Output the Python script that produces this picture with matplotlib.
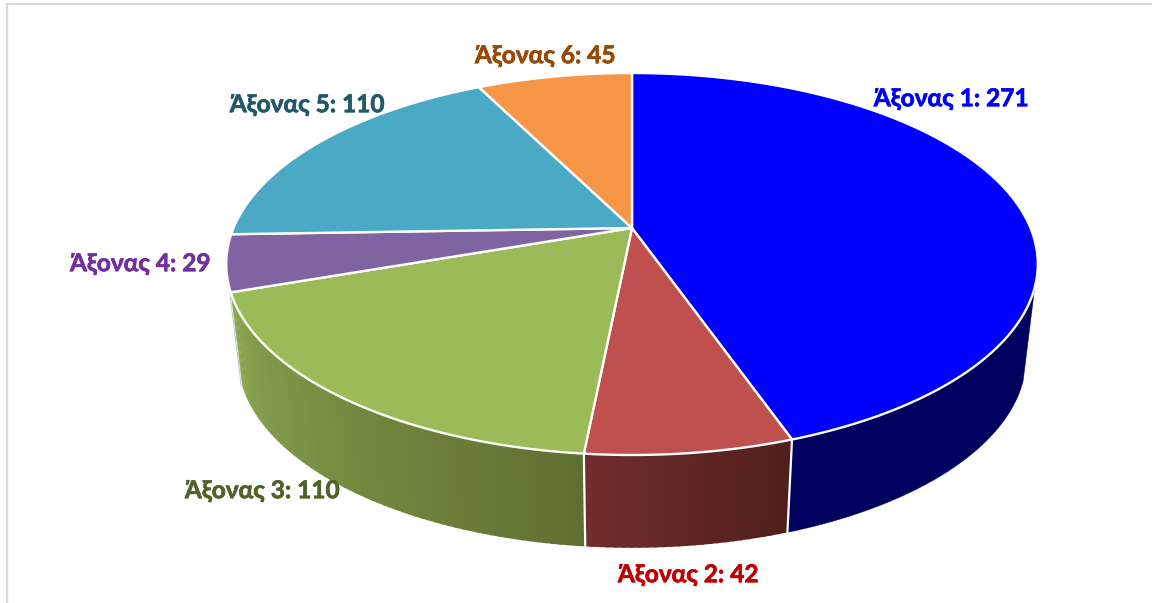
import numpy as np
import matplotlib
matplotlib.use("Agg")
import matplotlib.pyplot as plt
import matplotlib.patheffects as pe
from matplotlib.colors import to_rgb

categories = ["Άξονας 1", "Άξονας 2", "Άξονας 3", "Άξονας 4", "Άξονας 5", "Άξονας 6"]
values = [271, 42, 110, 29, 110, 45]
top_colors = ["#0000ff", "#c0504d", "#9bbb59", "#8064a2", "#4aaac5", "#f79646"]
side_start = ["#00005f", "#722e2c", "#8ba650", "#8064a2", "#4aaac5", "#f79646"]
side_end = ["#00005f", "#4f1f1b", "#5e7031", "#8064a2", "#4aaac5", "#f79646"]
label_colors = ["#0000ff", "#c00000", "#4f6228", "#7030a0", "#215968", "#984807"]

K = 0.1885
CX = 632


def top_xy(t):
    u, v = np.sin(t), np.cos(t)
    d = 1 + K * v
    return CX + 398.5 * u / d, 228 - 184.2 * v / d


def bot_xy(t):
    u, v = np.sin(t), np.cos(t)
    d = 1 + K * v
    return CX + 387 * u / d, 322 - 183.2 * v / d


fig = plt.figure(figsize=(11.52, 6.03), dpi=100)
ax = fig.add_axes([0, 0, 1, 1])
ax.set_xlim(0, 1152)
ax.set_ylim(603, 0)
ax.axis("off")

# chart frame
ax.plot([6.5, 6.5, 1152], [603, 3.5, 3.5], color="#d9d9d9", lw=1.6, zorder=1)

edges = np.concatenate([[0], np.cumsum(values)]) / np.sum(values) * 2 * np.pi
T_VIS0, T_VIS1 = np.radians(107.6), edges[3]

# side walls
for i in range(len(values)):
    a, b = max(edges[i], T_VIS0), min(edges[i + 1], T_VIS1)
    if a >= b:
        continue
    if side_start[i] == side_end[i]:
        ts = np.linspace(a, b, 200)
        x1, y1 = top_xy(ts)
        x2, y2 = bot_xy(ts[::-1])
        ax.fill(np.r_[x1, x2], np.r_[y1, y2], color=side_start[i], lw=0.3, zorder=2)
        continue
    n = max(int((b - a) * 60), 2)
    ts = np.linspace(a, b, n + 1)
    c0, c1 = np.array(to_rgb(side_start[i])), np.array(to_rgb(side_end[i]))
    for j in range(n):
        # slight overlap hides antialiasing seams between strips
        t = np.linspace(ts[j], min(ts[j + 1] + 0.006, b), 6)
        x1, y1 = top_xy(t)
        x2, y2 = bot_xy(t[::-1])
        f = (j + 0.5) / n
        col = c1 * (1 - f) + c0 * f
        ax.fill(np.r_[x1, x2], np.r_[y1, y2], facecolor=col, edgecolor="none", zorder=2)

# white seams between visible side walls, thin outline at left end
for t in edges[1:3]:
    x1, y1 = top_xy(t)
    x2, y2 = bot_xy(t)
    ax.plot([x1, x2], [y1, y2], color="white", lw=1.6, zorder=3)
x1, y1 = top_xy(edges[3])
x2, y2 = bot_xy(edges[3])
ax.plot([x1 - 1, x2 - 1], [y1, y2], color="#c4c4c4", lw=0.7, zorder=3)

# top face
for i in range(len(values)):
    ts = np.linspace(edges[i], edges[i + 1], 200)
    x, y = top_xy(ts)
    ax.fill(np.r_[CX, x], np.r_[228, y], facecolor=top_colors[i], edgecolor="white",
            lw=1.7, joinstyle="round", zorder=4)

label_xy = [(951, 99), (688, 575), (262, 491), (140, 264), (307, 105), (545, 56)]
for name, val, col, (lx, ly) in zip(categories, values, label_colors, label_xy):
    ax.text(lx, ly, f"{name}: {val}", color=col, ha="center", va="center",
            fontsize=17.6, fontweight="bold", family=["Lato", "Open Sans", "DejaVu Sans"], zorder=5,
            path_effects=[pe.withStroke(linewidth=0.5, foreground=col)])

fig.savefig("out.png", dpi=100)
